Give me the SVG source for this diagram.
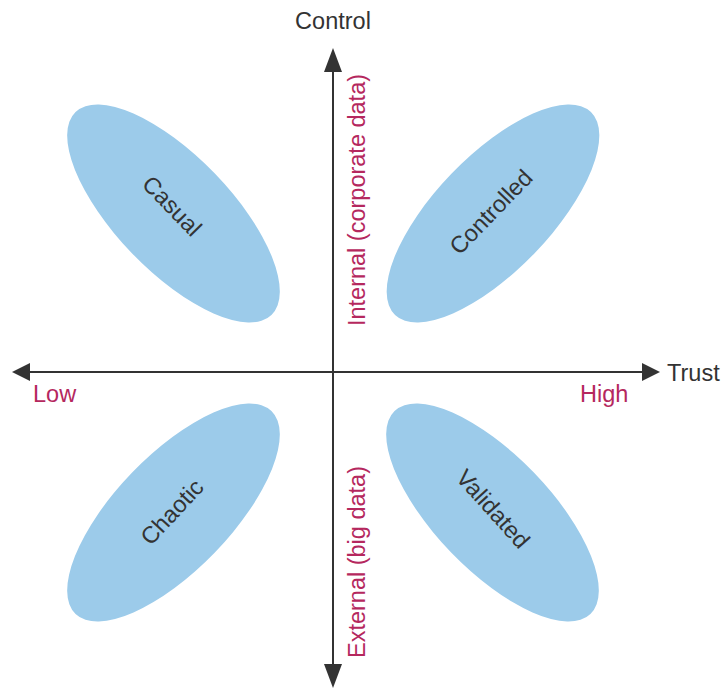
<svg xmlns="http://www.w3.org/2000/svg" width="722" height="688" viewBox="0 0 722 688">
<style>
.ell{fill:#9ccbea;}
.lbl{font-family:"Liberation Sans",Arial,sans-serif;font-size:23.5px;fill:#333333;}
.mag{font-family:"Liberation Sans",Arial,sans-serif;font-size:23.5px;fill:#b5285e;}
.ax{stroke:#333333;stroke-width:2;fill:none;}
.ah{fill:#333333;}
</style>
<rect width="722" height="688" fill="#ffffff"/>
<g id="casual">
<ellipse class="ell" cx="173.5" cy="213.5" rx="141" ry="57.5" transform="rotate(46 173.5 213.5)"/>
<text class="lbl" x="172" y="206" text-anchor="middle" dominant-baseline="central" transform="rotate(46 172 206)">Casual</text>
</g>
<g id="controlled">
<ellipse class="ell" cx="493" cy="213.5" rx="141" ry="57.5" transform="rotate(-46 493 213.5)"/>
<text class="lbl" x="491" y="212" text-anchor="middle" dominant-baseline="central" transform="rotate(-46 491 212)">Controlled</text>
</g>
<g id="chaotic">
<ellipse class="ell" cx="173.5" cy="512.5" rx="141" ry="57.5" transform="rotate(-46 173.5 512.5)"/>
<text class="lbl" x="172" y="512" text-anchor="middle" dominant-baseline="central" transform="rotate(-47 172 512)">Chaotic</text>
</g>
<g id="validated">
<ellipse class="ell" cx="492.5" cy="512.5" rx="141" ry="57.5" transform="rotate(46 492.5 512.5)"/>
<text class="lbl" x="493" y="509" text-anchor="middle" dominant-baseline="central" transform="rotate(48 493 509)">Validated</text>
</g>
<g id="connectors">
<line class="ax" x1="333" y1="68" x2="333" y2="670"/>
<line class="ax" x1="28" y1="372" x2="645" y2="372"/>
<polygon class="ah" points="333,48 324,72 342,72"/>
<polygon class="ah" points="333,688 324,664 342,664"/>
<polygon class="ah" points="12,372 30,363 30,381"/>
<polygon class="ah" points="660,372 642,363 642,381"/>
</g>
<g id="labels">
<text class="lbl" x="333" y="29" text-anchor="middle">Control</text>
<text class="lbl" x="667" y="381">Trust</text>
<text class="mag" x="33" y="402">Low</text>
<text class="mag" x="580" y="402">High</text>
<text class="mag" x="365" y="200" text-anchor="middle" transform="rotate(-90 365 200)">Internal (corporate data)</text>
<text class="mag" x="365" y="562" text-anchor="middle" transform="rotate(-90 365 562)">External (big data)</text>
</g>
</svg>
